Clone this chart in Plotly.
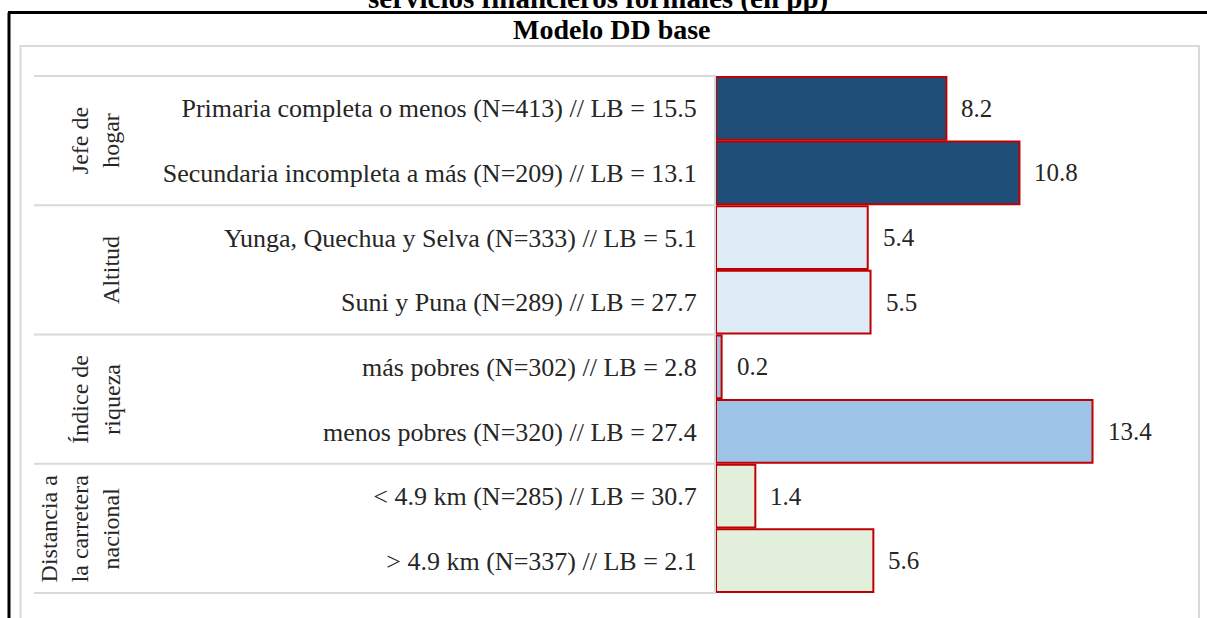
import plotly.graph_objects as go

W, H = 1207, 618

categorias = [
    "Primaria completa o menos (N=413) // LB = 15.5",
    "Secundaria incompleta a más (N=209) // LB = 13.1",
    "Yunga, Quechua y Selva (N=333) // LB = 5.1",
    "Suni y Puna (N=289) // LB = 27.7",
    "más pobres (N=302) // LB = 2.8",
    "menos pobres (N=320) // LB = 27.4",
    "< 4.9 km (N=285) // LB = 30.7",
    "> 4.9 km (N=337) // LB = 2.1",
]
valores = [8.2, 10.8, 5.4, 5.5, 0.2, 13.4, 1.4, 5.6]
colores = ["#1f4e79", "#1f4e79", "#deebf7", "#deebf7",
           "#9dc3e6", "#9dc3e6", "#e2efda", "#e2efda"]
grupos = ["Jefe de<br>hogar", "Altitud", "Índice de<br>riqueza",
          "Distancia a<br>la carretera<br>nacional"]

FONT = "Liberation Serif, Times New Roman, serif"

def px_x(p):
    return p / W

def px_y(p):
    return 1 - p / H

fig = go.Figure()
fig.add_trace(go.Bar(
    x=valores, y=categorias, orientation="h",
    marker=dict(color=colores, line=dict(color="#c00000", width=2)),
    hoverinfo="skip",
))

# etiquetas de valores
for v, c in zip(valores, categorias):
    fig.add_annotation(x=v, y=c, text=f"{v:.1f}", showarrow=False,
                       xanchor="left", xshift=13,
                       font=dict(size=25, color="#262626", family=FONT))

# etiquetas de grupo (rotadas)
for i, g in enumerate(grupos):
    fig.add_annotation(x=px_x(126), xref="paper", y=2 * i + 0.5, yref="y",
                       text=g, textangle=-90, showarrow=False,
                       xanchor="right", yanchor="middle", align="center",
                       font=dict(size=24, color="#262626", family=FONT))

# separadores de grupo
for yy in [-0.5, 1.5, 3.5, 5.5, 7.5]:
    fig.add_shape(type="line", xref="paper", yref="y",
                  x0=px_x(34), x1=px_x(716), y0=yy, y1=yy,
                  line=dict(color="#d9d9d9", width=2))

# marco gris interior
fig.add_shape(type="rect", xref="paper", yref="paper",
              x0=px_x(20.5), x1=px_x(1199), y0=-0.05, y1=px_y(46),
              line=dict(color="#d9d9d9", width=2))
# marco negro
fig.add_shape(type="line", xref="paper", yref="paper",
              x0=px_x(8), x1=1.01, y0=px_y(12.5), y1=px_y(12.5),
              line=dict(color="black", width=3))
fig.add_shape(type="line", xref="paper", yref="paper",
              x0=px_x(9), x1=px_x(9), y0=-0.05, y1=px_y(12.5),
              line=dict(color="black", width=3))

# titulo superior (cortado en el borde, como en el original)
fig.add_annotation(x=px_x(598), y=1, xref="paper", yref="paper",
                   text="<b>servicios financieros formales (en pp)</b>",
                   showarrow=False, xanchor="center", yanchor="bottom", yshift=-17,
                   font=dict(size=29, color="black", family=FONT))
fig.add_annotation(x=px_x(612), y=px_y(29), xref="paper", yref="paper",
                   text="<b>Modelo DD base</b>", showarrow=False,
                   xanchor="center", yanchor="middle",
                   font=dict(size=28, color="black", family=FONT))

fig.update_layout(
    width=W, height=H,
    margin=dict(l=0, r=0, t=0, b=0),
    paper_bgcolor="white", plot_bgcolor="white",
    bargap=0.03, showlegend=False,
    font=dict(family=FONT, color="#262626"),
)
fig.update_xaxes(domain=[px_x(716), px_x(1199)], range=[0, 17.19],
                 visible=False, fixedrange=True)
fig.update_yaxes(domain=[px_y(594), px_y(75)], autorange="reversed",
                 showline=True, linecolor="#d9d9d9", linewidth=2,
                 ticks="", showgrid=False, ticklabelstandoff=12,
                 tickfont=dict(size=26, family=FONT, color="#262626"),
                 fixedrange=True)

# sin margen del body para que la figura empiece en (0, 0)
fig.write_html("out.html", config={"displayModeBar": False},
               post_script="document.body.style.margin='0px';")
